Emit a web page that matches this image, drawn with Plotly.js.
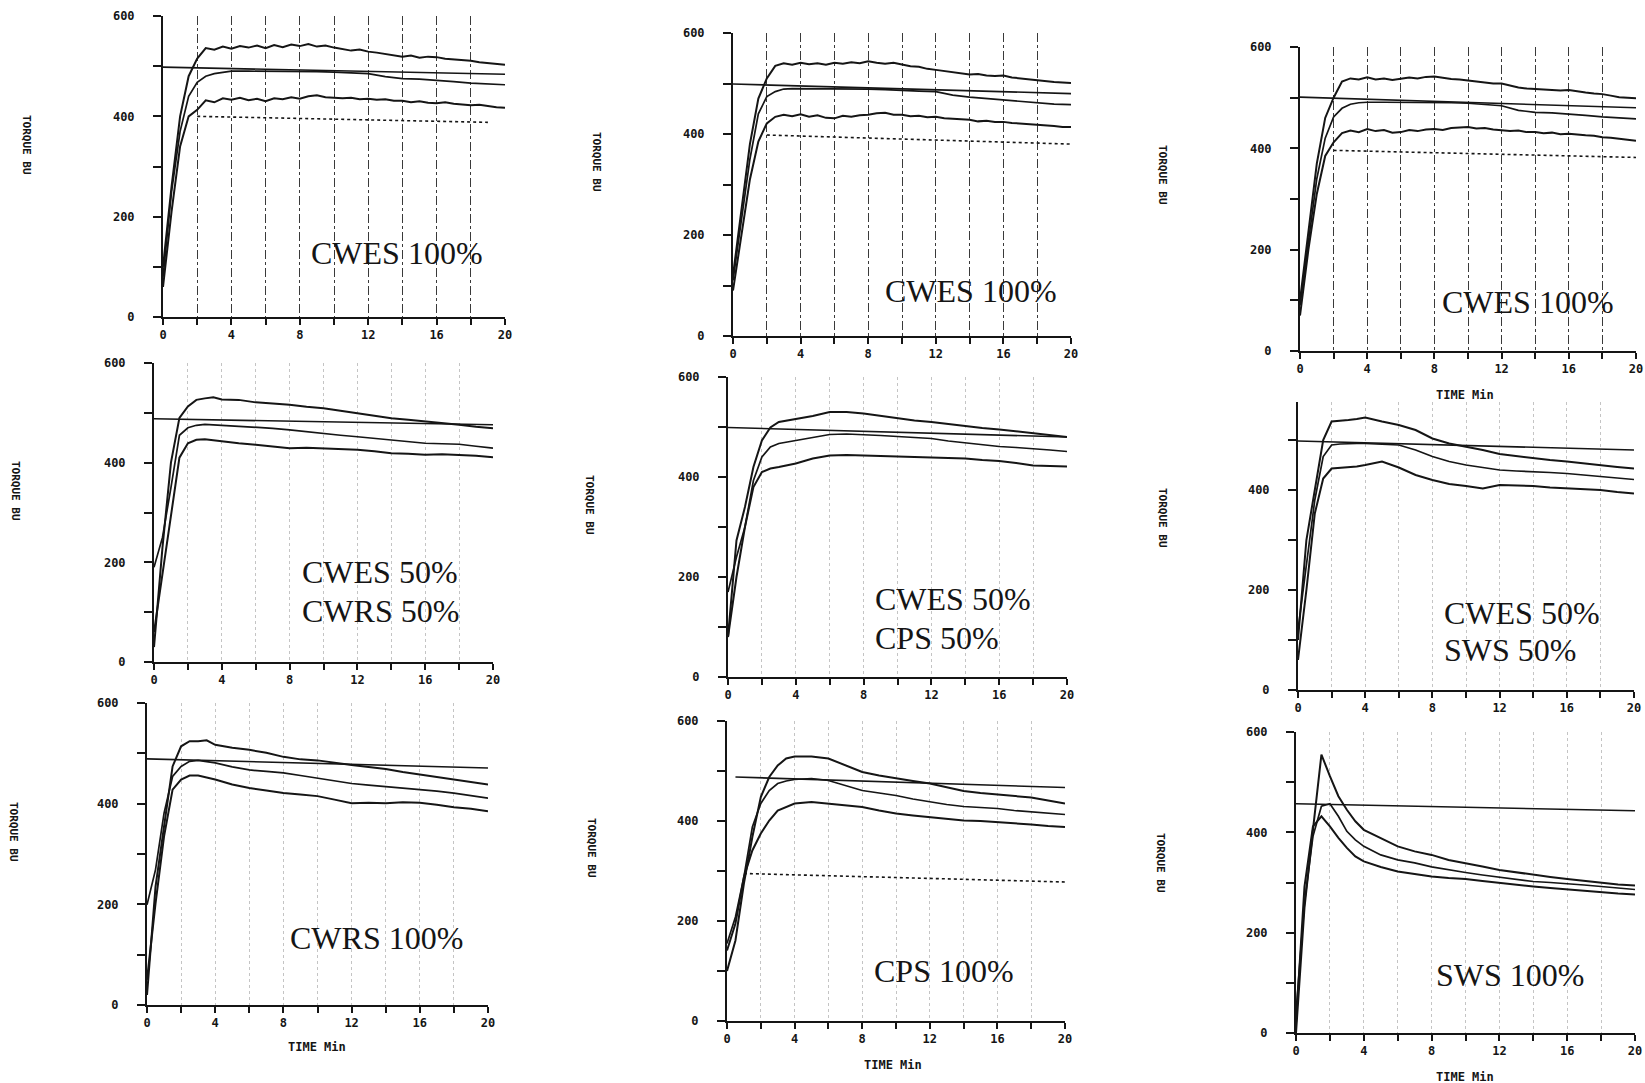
<!DOCTYPE html>
<html>
<head>
<meta charset="utf-8">
<script src="https://cdn.plot.ly/plotly-3.0.1.min.js"></script>
<style>
html,body{margin:0;padding:0;background:#fff;}
#chart{width:1645px;height:1083px;}
</style>
</head>
<body>
<div id="chart"></div>
<script>
// ---------------- DATA ----------------
const timeFine = [0,0.5,1,1.5,2,2.5,3,3.5,4,4.5,5,5.5,6,6.5,7,7.5,8,8.5,9,9.5,10,10.5,11,11.5,12,12.5,13,13.5,14,14.5,15,15.5,16,16.5,17,17.5,18,18.5,19,19.5,20];
const timeCoarse = [0,0.5,1,1.5,2,2.5,3,3.5,4,5,6,7,8,9,10,11,12,13,14,15,16,17,18,19,20];
const refTimes = [0,20];
const p8RefTimes = [0.5,20];
const p1DotTimes = [2,19];
const p2DotTimes = [2,20];
const p3DotTimes = [2,20];
const p8DotTimes = [1,20];

const xTickVals = [0,2,4,6,8,10,12,14,16,18,20];
const xTickText = ['0','','4','','8','','12','','16','','20'];
const yTickVals = [0,100,200,300,400,500,600];
const yTickText = ['0','','200','','400','','600'];
const yTickValsShort = [0,100,200,300,400,500];
const yTickTextShort = ['0','','200','','400',''];

const yAxisLabel = 'TORQUE BU';
const xAxisLabel = 'TIME Min';
const panelLabels = [
  ['CWES 100%'], ['CWES 100%'], ['CWES 100%'],
  ['CWES 50%','CWRS 50%'], ['CWES 50%','CPS 50%'], ['CWES 50%','SWS 50%'],
  ['CWRS 100%'], ['CPS 100%'], ['SWS 100%']
];

// Panel 1 : CWES 100%
const p1Top = [100,260,400,480,515,536,533,539,535,540,537,541,536,542,538,543,540,544,539,541,537,534,531,533,529,527,524,521,519,521,517,519,518,515,514,512,511,508,506,505,503];
const p1Mid = [80,250,370,440,468,480,485,488,490,490,490,490,490,489,488,487,485,479,475,474,472,469,466,464,463];
const p1Bot = [60,210,340,400,413,432,428,436,433,437,432,435,430,436,434,438,435,440,442,438,437,436,437,434,435,433,434,431,431,428,430,427,426,428,425,424,422,423,420,418,417];
const p1Ref = [498,484];
const p1Dot = [400,388];

// Panel 2 : CWES 100%
const p2Top = [120,250,380,470,510,535,540,537,541,538,540,537,541,539,542,540,544,541,539,541,538,534,533,529,527,525,523,520,518,519,516,515,516,512,510,508,506,505,503,502,501];
const p2Mid = [110,230,350,440,474,484,489,490,490,490,489,489,489,488,486,485,484,477,473,470,468,464,461,459,458];
const p2Bot = [90,200,310,385,421,434,438,435,439,434,437,432,431,436,434,437,438,441,442,438,438,435,436,433,434,431,430,428,428,425,426,424,424,422,421,419,418,417,416,414,414];
const p2Ref = [499,480];
const p2Dot = [398,380];

// Panel 3 : CWES 100%
const p3Top = [100,240,370,460,500,532,538,536,540,536,538,535,537,540,538,541,542,539,537,536,534,531,530,528,528,524,520,518,517,516,515,514,515,512,510,508,507,504,501,500,499];
const p3Mid = [90,220,340,420,462,479,487,490,491,491,491,491,491,490,489,487,484,475,471,470,468,465,462,460,458];
const p3Bot = [70,200,310,385,412,430,435,432,438,434,436,431,432,436,434,437,438,436,440,441,442,439,440,437,436,434,435,432,432,430,431,428,429,427,426,425,422,421,419,417,415];
const p3Ref = [501,480];
const p3Dot = [396,382];

// Panel 4 : CWES 50% / CWRS 50%
const p4Top = [30,230,400,490,513,526,529,531,527,526,521,519,516,512,509,504,499,494,489,486,483,480,476,472,469];
const p4Mid = [190,250,350,455,470,475,477,476,475,474,472,469,466,462,459,455,452,449,446,442,439,438,437,433,429];
const p4Bot = [60,180,300,410,439,446,447,445,442,439,436,432,429,430,429,427,426,423,419,418,416,417,416,414,411];
const p4Ref = [488,476];

// Panel 5 : CWES 50% / CPS 50%
const p5Top = [80,273,340,420,473,499,510,513,515,522,530,530,527,522,517,513,510,506,501,498,495,491,487,483,480];
const p5Mid = [170,240,300,393,440,460,467,470,473,480,485,486,485,483,481,479,477,472,468,464,461,459,457,454,451];
const p5Bot = [80,200,300,380,410,417,420,423,427,437,443,444,443,442,441,441,440,439,437,434,432,428,423,422,421];
const p5Ref = [499,480];

// Panel 6 : CWES 50% / SWS 50%
const p6Top = [100,300,400,500,537,538,540,542,545,537,530,520,503,493,487,480,472,468,463,460,457,453,450,446,443];
const p6Mid = [120,250,380,467,490,492,493,493,493,492,490,480,467,457,450,445,440,438,437,435,433,430,427,424,421];
const p6Bot = [60,200,353,423,443,444,445,447,450,457,445,430,420,412,408,403,410,409,408,405,403,401,400,396,393];
const p6Ref = [498,480];

// Panel 7 : CWRS 100%
const p7Top = [20,235,355,474,514,524,524,526,517,511,507,501,493,488,486,481,477,473,469,463,458,453,448,443,438];
const p7Mid = [199,269,381,454,474,484,486,484,481,473,467,464,461,456,451,445,440,437,434,432,429,425,421,416,411];
const p7Bot = [50,202,335,428,448,456,456,452,448,438,431,426,421,418,415,408,401,402,401,403,402,398,393,390,385];
const p7Ref = [489,471];

// Panel 8 : CPS 100%
const p8Top = [100,161,275,368,448,488,511,525,529,529,525,511,498,491,485,480,475,467,460,456,453,450,447,441,435];
const p8Mid = [155,208,288,388,435,461,475,480,483,485,481,471,461,456,451,444,438,433,429,427,425,421,418,415,413];
const p8Bot = [141,195,288,341,375,401,421,428,435,438,435,431,428,421,415,411,408,404,401,400,398,395,393,390,388];
const p8Ref = [488,467];
const p8Dot = [295,278];

// Panel 9 : SWS 100%
const p9Top = [0,250,405,555,512,472,445,422,405,389,372,362,355,345,339,332,325,320,315,311,307,303,299,296,294];
const p9Mid = [40,260,392,452,457,432,402,385,372,355,345,339,331,325,320,315,311,306,302,300,298,295,292,289,286];
const p9Bot = [20,292,412,432,412,389,369,352,342,331,322,317,312,309,307,303,299,296,292,289,286,284,281,278,276];
const p9Ref = [457,443];

// ---------------- ASSEMBLY ----------------
const panels = [
  {top:p1Top, topT:timeFine, mid:p1Mid, bot:p1Bot, botT:timeFine, ref:p1Ref, refT:refTimes, dot:p1Dot, dotT:p1DotTimes},
  {top:p2Top, topT:timeFine, mid:p2Mid, bot:p2Bot, botT:timeFine, ref:p2Ref, refT:refTimes, dot:p2Dot, dotT:p2DotTimes},
  {top:p3Top, topT:timeFine, mid:p3Mid, bot:p3Bot, botT:timeFine, ref:p3Ref, refT:refTimes, dot:p3Dot, dotT:p3DotTimes},
  {top:p4Top, topT:timeCoarse, mid:p4Mid, bot:p4Bot, botT:timeCoarse, ref:p4Ref, refT:refTimes},
  {top:p5Top, topT:timeCoarse, mid:p5Mid, bot:p5Bot, botT:timeCoarse, ref:p5Ref, refT:refTimes},
  {top:p6Top, topT:timeCoarse, mid:p6Mid, bot:p6Bot, botT:timeCoarse, ref:p6Ref, refT:refTimes},
  {top:p7Top, topT:timeCoarse, mid:p7Mid, bot:p7Bot, botT:timeCoarse, ref:p7Ref, refT:refTimes},
  {top:p8Top, topT:timeCoarse, mid:p8Mid, bot:p8Bot, botT:timeCoarse, ref:p8Ref, refT:p8RefTimes, dot:p8Dot, dotT:p8DotTimes},
  {top:p9Top, topT:timeCoarse, mid:p9Mid, bot:p9Bot, botT:timeCoarse, ref:p9Ref, refT:refTimes}
];

// ---------------- LAYOUT (pixel boxes) ----------------
const W = 1645, H = 1083;
const boxes = [
  {x0:163, x1:505, yTop:16,  yZero:317,  yMax:600, grid:'dark'},
  {x0:733, x1:1071,yTop:33,  yZero:336,  yMax:600, grid:'dark'},
  {x0:1300,x1:1636,yTop:47,  yZero:351,  yMax:600, grid:'dark'},
  {x0:154, x1:493, yTop:363, yZero:662,  yMax:600, grid:'light'},
  {x0:728, x1:1067,yTop:377, yZero:677,  yMax:600, grid:'light'},
  {x0:1298,x1:1634,yTop:402, yZero:690,  yMax:576, grid:'light'},
  {x0:147, x1:488, yTop:703, yZero:1005, yMax:600, grid:'light'},
  {x0:727, x1:1065,yTop:721, yZero:1021, yMax:600, grid:'light'},
  {x0:1296,x1:1635,yTop:732, yZero:1033, yMax:600, grid:'light'}
];
const yTitlePos = [[27,145],[597,162],[1163,175],[16,491],[590,505],[1163,518],[14,832],[592,848],[1161,863]];
const xTitlePos = [[1465,395],[317,1047],[893,1065],[1465,1077]];
const labelPos = [
  [{x:397,y:253,a:'center'}],
  [{x:971,y:291,a:'center'}],
  [{x:1528,y:302,a:'center'}],
  [{x:300,y:572,a:'left'},{x:300,y:611,a:'left'}],
  [{x:873,y:599,a:'left'},{x:873,y:638,a:'left'}],
  [{x:1442,y:613,a:'left'},{x:1442,y:650,a:'left'}],
  [{x:376,y:938,a:'center'}],
  [{x:944,y:971,a:'center'}],
  [{x:1510,y:975,a:'center'}]
];

const ink = '#151515';
const tickFont = {family:'DejaVu Sans Mono', size:12, color:ink, weight:'bold'};
const traces = [];
const layout = {
  width:W, height:H,
  margin:{l:0,r:0,t:0,b:0},
  paper_bgcolor:'#ffffff', plot_bgcolor:'#ffffff',
  showlegend:false,
  annotations:[]
};

panels.forEach((p, i) => {
  const n = i === 0 ? '' : String(i + 1);
  const xa = 'x' + n, ya = 'y' + n;
  const b = boxes[i];
  const common = {xaxis:xa, yaxis:ya, mode:'lines', hoverinfo:'skip'};
  traces.push(Object.assign({x:p.refT, y:p.ref, line:{color:ink, width:1.6}}, common));
  if (p.dot) traces.push(Object.assign({x:p.dotT, y:p.dot, line:{color:ink, width:1.6, dash:'dot'}}, common));
  traces.push(Object.assign({x:p.topT, y:p.top, line:{color:ink, width:2}}, common));
  traces.push(Object.assign({x:timeCoarse, y:p.mid, line:{color:ink, width:1.7}}, common));
  traces.push(Object.assign({x:p.botT, y:p.bot, line:{color:ink, width:2}}, common));

  const dark = b.grid === 'dark';
  layout['xaxis' + n] = {
    domain:[b.x0 / W, b.x1 / W], range:[0,20], anchor:ya,
    showline:true, linecolor:ink, linewidth:2,
    ticks:'outside', ticklen:6, tickwidth:2, tickcolor:ink,
    tickmode:'array', tickvals:xTickVals, ticktext:xTickText, tickfont:tickFont,
    showgrid:true, gridcolor: dark ? '#3a3a3a' : '#c4c4c4', griddash: dark ? 'dashdot' : 'dot', gridwidth:1,
    zeroline:false, fixedrange:true
  };
  const short = b.yMax < 600;
  layout['yaxis' + n] = {
    domain:[1 - b.yZero / H, 1 - b.yTop / H], range:[0, b.yMax], anchor:xa,
    showline:true, linecolor:ink, linewidth:2,
    ticks:'outside', ticklen:8, tickwidth:2, tickcolor:ink,
    tickmode:'array', tickvals: short ? yTickValsShort : yTickVals, ticktext: short ? yTickTextShort : yTickText,
    tickfont:tickFont, ticklabelstandoff:16,
    showgrid:false, zeroline:false, fixedrange:true
  };

  layout.annotations.push({
    xref:'paper', yref:'paper', x:yTitlePos[i][0] / W, y:1 - yTitlePos[i][1] / H,
    text:yAxisLabel, textangle:90, showarrow:false, xanchor:'center', yanchor:'middle',
    font:{family:'DejaVu Sans Mono', size:11, color:ink, weight:'bold'}
  });
  panelLabels[i].forEach((txt, k) => {
    const lp = labelPos[i][k];
    layout.annotations.push({
      xref:'paper', yref:'paper', x:lp.x / W, y:1 - lp.y / H,
      text:txt, showarrow:false, xanchor:lp.a, yanchor:'middle',
      font:{family:'Liberation Serif', size:32, color:ink}
    });
  });
});

xTitlePos.forEach(pos => {
  layout.annotations.push({
    xref:'paper', yref:'paper', x:pos[0] / W, y:1 - pos[1] / H,
    text:xAxisLabel, showarrow:false, xanchor:'center', yanchor:'middle',
    font:{family:'DejaVu Sans Mono', size:12, color:ink, weight:'bold'}
  });
});

Plotly.newPlot('chart', traces, layout, {staticPlot:true, displayModeBar:false});
</script>
</body>
</html>
